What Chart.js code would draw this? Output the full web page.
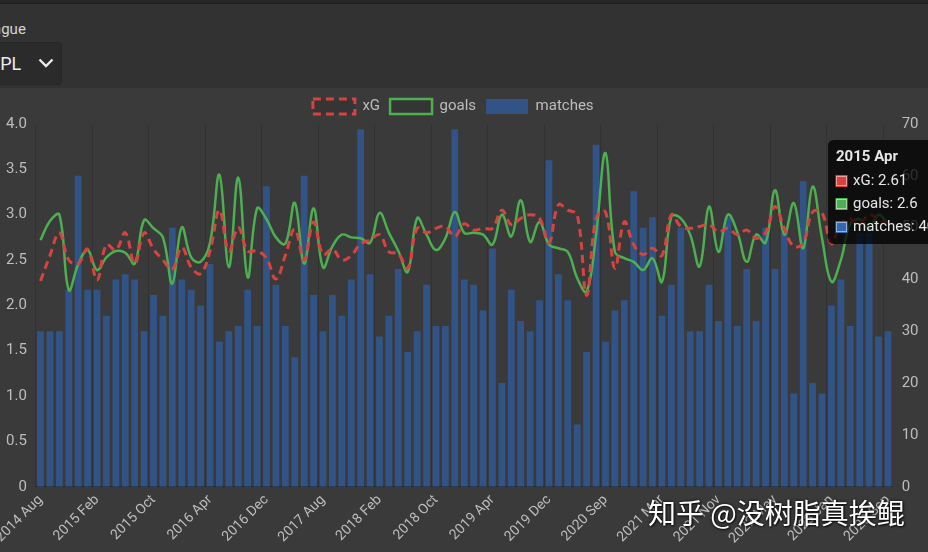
<!DOCTYPE html>
<html>
<head>
<meta charset="utf-8">
<title>EPL xG / goals per month</title>
<script src="https://cdn.jsdelivr.net/npm/chart.js@4.4.1/dist/chart.umd.min.js"></script>
<style>
    html, body { margin: 0; padding: 0; width: 928px; height: 552px; overflow: hidden; background: #323232; font-family: Roboto, sans-serif; }
    .topbar { position: absolute; left: 0; top: 0; width: 928px; height: 3px; background: #272727; border-bottom: 1px solid #1d1d1d; }
    .league-label { position: absolute; left: -23px; top: 20px; font-size: 15px; color: #d4d4d4; }
    .league-select { position: absolute; left: -40px; top: 42px; width: 102px; height: 43px; box-sizing: border-box;
        background: #2b2b2b; border: 1px solid #272727; border-radius: 4px; }
    .league-select span { position: absolute; left: 29px; top: 10px; font-size: 18px; color: #ececec; }
    .league-select svg { position: absolute; left: 77px; top: 15px; }
    .panel { position: absolute; left: 0; top: 88px; width: 960px; height: 464px; background: #3a3a3a; }
    .panel canvas { position: absolute; left: -12px; top: 0; }
    .watermark { position: absolute; left: 648px; top: 492px; font-family: "Noto Sans CJK SC", sans-serif; font-size: 28px;
        color: #ffffff; text-shadow: 0 0 3px rgba(0,0,0,0.9), 1px 1px 2px rgba(0,0,0,0.7); white-space: nowrap; }
</style>
</head>
<body>
<div class="topbar"></div>
<div class="league-label">League</div>
<div class="league-select">
    <span>EPL</span>
    <svg width="16" height="10" viewBox="0 0 16 10"><polyline points="1.5,1.5 8,8 14.5,1.5" fill="none" stroke="#ececec" stroke-width="2.4"/></svg>
</div>
<div class="panel"><canvas id="xgChart" width="972" height="464"></canvas></div>
<div class="watermark">知乎 @没树脂真挨鲲</div>

<script>
// months with EPL fixtures, Aug 2014 - Sep 2023
const months = [
    "2014 Aug", "2014 Sep", "2014 Oct", "2014 Nov", "2014 Dec",
    "2015 Jan", "2015 Feb", "2015 Mar", "2015 Apr", "2015 May",
    "2015 Aug", "2015 Sep", "2015 Oct", "2015 Nov", "2015 Dec",
    "2016 Jan", "2016 Feb", "2016 Mar", "2016 Apr", "2016 May",
    "2016 Aug", "2016 Sep", "2016 Oct", "2016 Nov", "2016 Dec",
    "2017 Jan", "2017 Feb", "2017 Mar", "2017 Apr", "2017 May",
    "2017 Aug", "2017 Sep", "2017 Oct", "2017 Nov", "2017 Dec",
    "2018 Jan", "2018 Feb", "2018 Mar", "2018 Apr", "2018 May",
    "2018 Aug", "2018 Sep", "2018 Oct", "2018 Nov", "2018 Dec",
    "2019 Jan", "2019 Feb", "2019 Mar", "2019 Apr", "2019 May",
    "2019 Aug", "2019 Sep", "2019 Oct", "2019 Nov", "2019 Dec",
    "2020 Jan", "2020 Feb", "2020 Mar", "2020 Jun", "2020 Jul",
    "2020 Sep", "2020 Oct", "2020 Nov", "2020 Dec",
    "2021 Jan", "2021 Feb", "2021 Mar", "2021 Apr", "2021 May",
    "2021 Aug", "2021 Sep", "2021 Oct", "2021 Nov", "2021 Dec",
    "2022 Jan", "2022 Feb", "2022 Mar", "2022 Apr", "2022 May",
    "2022 Aug", "2022 Sep", "2022 Oct", "2022 Nov", "2022 Dec",
    "2023 Jan", "2023 Feb", "2023 Mar", "2023 Apr", "2023 May",
    "2023 Aug", "2023 Sep"
];

const xg = [
    2.27, 2.55, 2.80, 2.50, 2.46, 2.62, 2.28, 2.67, 2.61, 2.80,
    2.46, 2.80, 2.62, 2.50, 2.40, 2.64, 2.42, 2.35, 2.60, 3.05,
    2.60, 2.86, 2.60, 2.60, 2.52, 2.29, 2.55, 2.84, 2.50, 2.92,
    2.56, 2.62, 2.50, 2.55, 2.68, 2.72, 2.78, 2.59, 2.57, 2.41,
    2.85, 2.80, 2.85, 2.87, 2.76, 2.90, 2.83, 2.85, 2.85, 3.05,
    2.89, 2.96, 3.00, 2.96, 2.69, 3.11, 3.05, 3.00, 2.11, 2.96,
    3.03, 2.41, 2.92, 2.67, 2.56, 2.63, 2.55, 3.00, 2.87, 2.85,
    2.87, 2.89, 2.81, 2.85, 2.78, 2.83, 2.74, 2.80, 3.09, 2.85,
    2.65, 2.69, 3.03, 3.02, 2.68, 2.90, 2.95, 2.90, 3.00, 2.95,
    2.90
];

const goals = [
    2.72, 2.93, 3.00, 2.17, 2.45, 2.61, 2.39, 2.53, 2.6, 2.58,
    2.46, 2.94, 2.85, 2.75, 2.24, 2.86, 2.53, 2.48, 2.69, 3.44,
    2.42, 3.41, 2.31, 3.07, 2.95, 2.75, 2.68, 3.13, 2.46, 3.07,
    2.42, 2.65, 2.78, 2.75, 2.74, 2.69, 3.02, 2.80, 2.60, 2.37,
    2.96, 2.78, 2.61, 2.74, 3.03, 2.80, 2.80, 2.78, 2.67, 3.00,
    2.76, 3.16, 2.70, 2.92, 2.67, 2.63, 2.59, 2.30, 2.15, 2.78,
    3.68, 2.59, 2.52, 2.48, 2.39, 2.52, 2.26, 2.98, 2.96, 2.78,
    2.43, 3.09, 2.59, 3.00, 2.81, 2.48, 2.78, 2.69, 3.27, 2.78,
    3.13, 2.63, 3.31, 2.74, 2.26, 2.50, 2.90, 2.95, 2.85, 3.00,
    2.90
];

const matches = [
    30, 30, 30, 38, 60, 38, 38, 33, 40, 41,
    40, 30, 37, 33, 50, 40, 38, 35, 43, 28,
    30, 31, 38, 31, 58, 39, 31, 25, 60, 37,
    30, 37, 33, 40, 69, 41, 29, 33, 42, 26,
    30, 39, 31, 31, 69, 40, 39, 34, 46, 20,
    38, 32, 30, 36, 63, 41, 36, 12, 26, 66,
    28, 34, 36, 57, 50, 52, 33, 39, 50, 30,
    30, 39, 32, 52, 31, 42, 32, 50, 42, 49,
    18, 59, 20, 18, 35, 40, 31, 49, 49, 29,
    30
];

const labelStep = 6;          // every 6th month gets a tick label
const pinnedMonth = 8;        // the hovered month shown in the tooltip
const xgColor = "#d8433f";
const goalsColor = "#4caf50";
const matchesColor = "rgba(42, 104, 196, 0.55)";

document.addEventListener("DOMContentLoaded", () => {
    Chart.defaults.font.family = "Roboto, sans-serif";
    Chart.defaults.color = "#bdbdbd";

    // keep the tooltip pinned at the top right corner of the plot
    Chart.Tooltip.positioners.pinned = function () {
        return { x: 846, y: 52 };
    };

    // the legend sits a little left of the canvas centre in the original page
    const legendNudge = {
        id: 'legendNudge',
        afterLayout(chart) {
            chart.legend.left -= 9;
            chart.legend.right -= 9;
        }
    };

    const swatches = [xgColor, goalsColor, "#3568b0"];

    const xgChart = new Chart(document.getElementById("xgChart"), {
        type: 'bar',
        data: {
            labels: months,
            datasets: [{
                type: 'line',
                label: "xG",
                data: xg,
                yAxisID: 'y',
                borderColor: xgColor,
                backgroundColor: "rgba(0,0,0,0.08)",
                borderDash: [8, 5],
                borderWidth: 3,
                pointRadius: 0,
                tension: 0.4
            }, {
                type: 'line',
                label: "goals",
                data: goals,
                yAxisID: 'y',
                borderColor: goalsColor,
                backgroundColor: "rgba(0,0,0,0.08)",
                borderWidth: 2.5,
                pointRadius: 0,
                tension: 0.4
            }, {
                type: 'bar',
                label: "matches",
                data: matches,
                yAxisID: 'y1',
                backgroundColor: matchesColor,
                borderWidth: 0
            }]
        },
        plugins: [legendNudge],
        options: {
            responsive: false,
            animation: false,
            devicePixelRatio: 1,
            layout: { padding: { left: 9, right: 32.5, top: 1, bottom: 0 } },
            interaction: { mode: 'index', intersect: false },
            plugins: {
                legend: {
                    labels: { boxWidth: 42, boxHeight: 15, padding: 10, color: "#bdbdbd", font: { size: 15 } }
                },
                tooltip: {
                    position: 'pinned',
                    xAlign: 'left',
                    yAlign: 'top',
                    caretSize: 0,
                    caretPadding: 0,
                    padding: 8,
                    backgroundColor: "rgba(0,0,0,0.75)",
                    titleColor: "#e6e6e6",
                    bodyColor: "#e6e6e6",
                    titleFont: { size: 15, weight: 'bold' },
                    bodyFont: { size: 15 },
                    bodySpacing: 5,
                    boxWidth: 11,
                    boxHeight: 11,
                    boxPadding: 4,
                    callbacks: {
                        labelColor: (ctx) => ({
                            borderColor: swatches[ctx.datasetIndex],
                            backgroundColor: swatches[ctx.datasetIndex],
                            borderWidth: 0
                        })
                    }
                }
            },
            scales: {
                x: {
                    grid: {
                        drawTicks: false,
                        color: (ctx) => ctx.index % labelStep === 0 ? "rgba(0,0,0,0.12)" : "transparent"
                    },
                    border: { color: "#2a2a2a" },
                    ticks: {
                        autoSkip: false,
                        minRotation: 45,
                        maxRotation: 45,
                        padding: 5,
                        font: { size: 14 },
                        callback: (value, index) => index % labelStep === 0 ? months[index] : ""
                    }
                },
                y: {
                    position: 'left',
                    min: 0,
                    max: 4,
                    grid: { display: false, drawTicks: false },
                    border: { display: false },
                    ticks: { stepSize: 0.5, padding: 9, font: { size: 15 } }
                },
                y1: {
                    position: 'right',
                    min: 0,
                    max: 70,
                    grid: { display: false, drawTicks: false },
                    border: { display: false },
                    ticks: { stepSize: 10, padding: 9, font: { size: 15 } }
                }
            }
        }
    });

    xgChart.tooltip.setActiveElements(
        [0, 1, 2].map((d) => ({ datasetIndex: d, index: pinnedMonth })),
        { x: 846, y: 52 }
    );
    xgChart.draw();
});
</script>
</body>
</html>
